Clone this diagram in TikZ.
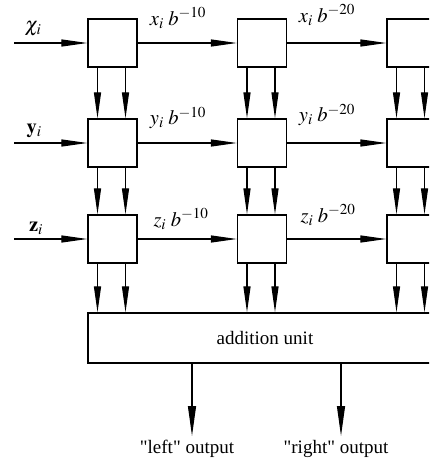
\documentclass[tikz,border=0pt]{standalone}
\usepackage{amsmath}
\usepackage{mathptmx}
\usepackage{fontspec}
\setmainfont{Liberation Serif}
\newfontfamily\plainserif{Liberation Serif}
\usetikzlibrary{arrows.meta,calc}
\begin{document}
\begin{tikzpicture}[x=1pt,y=-1pt,
  font=\fontsize{19}{22}\selectfont,
  cell/.style={draw, line width=1.4pt, minimum width=49pt, minimum height=48pt, inner sep=0pt},
  flow/.style={line width=1.2pt, -{Triangle[length=26pt,width=7pt]}},
  outflow/.style={line width=1.2pt, -{Triangle[length=30pt,width=8pt]}},
  lbl/.style={inner sep=0pt, font=\fontsize{20.5}{24}\selectfont}]
\useasboundingbox (0,0) rectangle (429,460);
\clip (0,0) rectangle (429,460);

% processing cells, three rows by three columns
\foreach \r/\yy in {1/43,2/143,3/239}{
  \foreach \c/\xx in {1/112.5,2/262,3/411.5}{
    \node[cell] (b\r\c) at (\xx,\yy) {};
  }
}

% addition unit
\node[draw, line width=1.4pt, minimum width=354pt, minimum height=50pt, inner sep=0pt]
  (add) at (265,338) {addition unit};

% inputs on the left
\coordinate (in1) at (14,43);
\coordinate (in2) at (14,143);
\coordinate (in3) at (14,239);
\draw[flow] (in1) -- (b11.west);
\draw[flow] (in2) -- (b21.west);
\draw[flow] (in3) -- (b31.west);
\node[lbl] (lx) at (33,29) {$\chi_i$};
\node[lbl] (ly) at (34,131) {$\mathbf{y}_i$};
\node[lbl] (lz) at (36,228) {$\mathbf{z}_i$};

% shifted values passed to the right
\foreach \r in {1,2,3}{
  \draw[flow] (b\r1.east) -- (b\r2.west);
  \draw[flow] (b\r2.east) -- (b\r3.west);
}
\node[lbl] (x10) at (178,18) {$x_i\;b^{-10}$};
\node[lbl] (x20) at (327,15) {$x_i\;b^{-20}$};
\node[lbl] (y10) at (178,118) {$y_i\;b^{-10}$};
\node[lbl] (y20) at (327,115) {$y_i\;b^{-20}$};
\node[lbl] (z10) at (181,219) {$z_i\;b^{-10}$};
\node[lbl] (z20) at (328,215) {$z_i\;b^{-20}$};

% vertical carries between rows and into the addition unit
\foreach \c in {1,2,3}{
  \foreach \dx in {-15,13}{
    \draw[flow] ([xshift=\dx]b1\c.south) -- ([xshift=\dx]b2\c.north);
    \draw[flow] ([xshift=\dx]b2\c.south) -- ([xshift=\dx]b3\c.north);
    \draw[flow] ([xshift=\dx]b3\c.south) -- ([xshift=\dx]b3\c.south |- add.north);
  }
}

% outputs
\node[inner sep=0pt, anchor=north, font=\fontsize{19}{22}\plainserif] (left) at (187,440) {"left" output};
\node[inner sep=0pt, anchor=north, font=\fontsize{19}{22}\plainserif] (right) at (336,440) {"right" output};
\coordinate (lo) at (192,436);
\coordinate (ro) at (341,436);
\draw[outflow] (lo |- add.south) -- (lo);
\draw[outflow] (ro |- add.south) -- (ro);
\end{tikzpicture}
\end{document}
